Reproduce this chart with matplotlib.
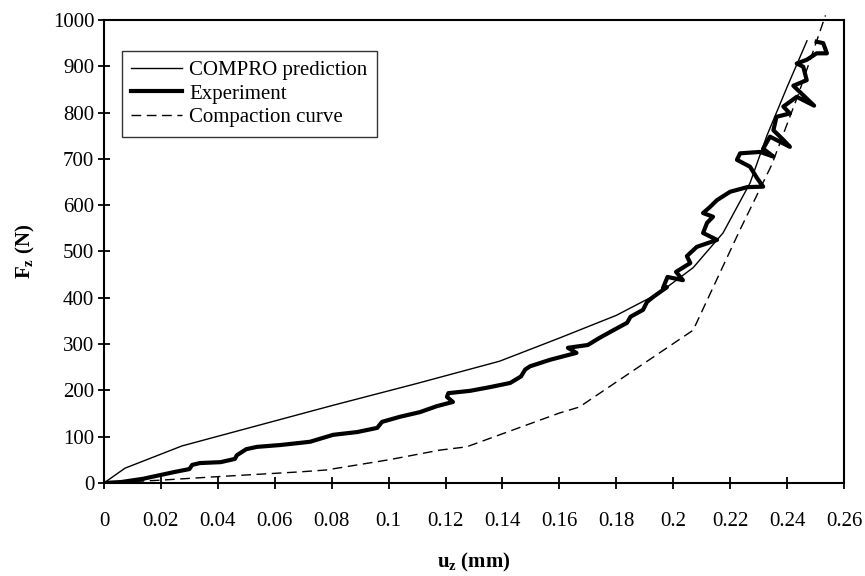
import matplotlib
matplotlib.use("Agg")
import matplotlib.pyplot as plt

plt.rcParams['font.family'] = ['Liberation Serif', 'DejaVu Serif']
plt.rcParams['mathtext.fontset'] = 'custom'
plt.rcParams['mathtext.rm'] = 'Liberation Serif'
plt.rcParams['mathtext.bf'] = 'Liberation Serif:bold'

# COMPRO model prediction
compro_x = [0, 0.0074, 0.0274, 0.054, 0.08, 0.11, 0.139, 0.16, 0.18, 0.195,
            0.207, 0.2175, 0.227, 0.2329, 0.24, 0.247]
compro_y = [0, 32, 80, 124, 167, 215, 263, 313, 362, 410,
            465, 540, 648, 750, 855, 955]

# measured force-displacement
exp_x = [0, 0.006, 0.0137, 0.0197, 0.025, 0.030, 0.031, 0.0337, 0.041, 0.046,
         0.0467, 0.050, 0.0538, 0.062, 0.068, 0.0724, 0.0805, 0.089, 0.096, 0.0977,
         0.104, 0.111, 0.117, 0.1226, 0.1205, 0.121, 0.1286, 0.1356, 0.1427, 0.1465,
         0.148, 0.1497, 0.1567, 0.166, 0.163, 0.170, 0.174, 0.179, 0.1838, 0.185,
         0.1894, 0.1908, 0.193, 0.1978, 0.1964, 0.198, 0.2034, 0.201, 0.206, 0.2048,
         0.2083, 0.2154, 0.2105, 0.2119, 0.214, 0.2105, 0.2129, 0.2154, 0.22, 0.226,
         0.2316, 0.2294, 0.227, 0.2224, 0.2235, 0.2305, 0.2352, 0.2316, 0.234, 0.241,
         0.2387, 0.2352, 0.2363, 0.241, 0.2387, 0.2434, 0.2495, 0.2422, 0.2469, 0.2457,
         0.2434, 0.2469, 0.2504, 0.254, 0.2527, 0.2504]
exp_y = [0, 2, 9, 17, 24, 30, 39, 43, 45, 52,
         60, 73, 78, 82, 86, 89, 104, 110, 119, 132,
         143, 153, 166, 175, 186, 194, 199, 207, 216, 230,
         245, 252, 266, 281, 292, 298, 313, 330, 346, 359,
         374, 391, 402, 423, 421, 445, 438, 456, 475, 490,
         510, 525, 540, 562, 575, 583, 596, 611, 629, 639,
         640, 659, 683, 698, 712, 715, 705, 722, 748, 726,
         741, 762, 791, 798, 813, 834, 815, 858, 870, 899,
         906, 914, 928, 928, 950, 953]

# compaction curve
comp_x = [0, 0.0197, 0.0408, 0.0689, 0.078, 0.10, 0.118, 0.1274, 0.139, 0.160,
          0.167, 0.207, 0.2234, 0.2346, 0.244, 0.2535]
comp_y = [0, 6, 14, 24, 28, 50, 71, 78, 104, 151,
          164, 330, 546, 687, 840, 1010]

fig = plt.figure(figsize=(8.65, 5.76), dpi=100)
ax = fig.add_axes([0.1202, 0.1615, 0.8555, 0.8038])

ax.plot(compro_x, compro_y, color='black', lw=1.0, label='COMPRO prediction')
ax.plot(exp_x, exp_y, color='black', lw=3.0, solid_joinstyle='round',
        label='Experiment')
ax.plot(comp_x, comp_y, color='black', lw=1.0, dashes=(7, 4),
        label='Compaction curve', clip_on=False)

ax.set_xlim(0, 0.26)
ax.set_ylim(0, 1000)
ax.set_xticks([i * 0.02 for i in range(14)])
ax.set_xticklabels(['0', '0.02', '0.04', '0.06', '0.08', '0.1', '0.12', '0.14',
                    '0.16', '0.18', '0.2', '0.22', '0.24', '0.26'])
ax.set_yticks(range(0, 1001, 100))

for s in ax.spines.values():
    s.set_linewidth(1.5)
ax.tick_params(axis='both', direction='inout', length=8, width=1.3,
               labelsize=15)
ax.tick_params(axis='x', pad=17)
ax.tick_params(axis='y', pad=3)

ax.set_xlabel(r'$\mathbf{u_z}$ (mm)', fontsize=15, fontweight='bold', labelpad=14)
ax.set_ylabel(r'$\mathbf{F_z}$ (N)', fontsize=15, fontweight='bold', labelpad=11)

leg = ax.legend(loc='upper left', bbox_to_anchor=(0.024, 0.933), borderaxespad=0,
                fontsize=15, frameon=True, fancybox=False, handlelength=2.45,
                handletextpad=0.33, labelspacing=0.2, borderpad=0.45)
leg.get_frame().set_edgecolor('black')
leg.get_frame().set_linewidth(1.0)

fig.savefig('out.png', dpi=100)
